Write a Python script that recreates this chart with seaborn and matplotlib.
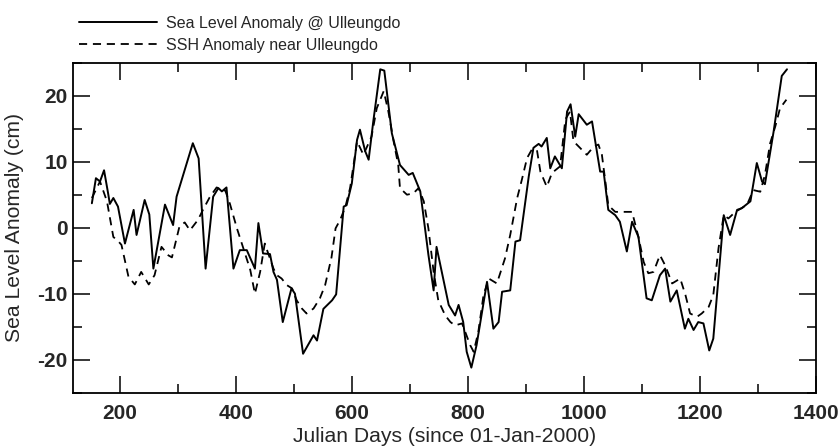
import numpy as np
import pandas as pd
import matplotlib
matplotlib.use("Agg")
import matplotlib.pyplot as plt
from matplotlib.ticker import MultipleLocator
import seaborn as sns

# Sea level anomaly at Ulleungdo (tide gauge) - solid
tg_day = [152, 159, 166, 173, 180, 183, 189, 197, 209, 224, 229, 243, 251, 258, 278, 292,
          298, 326, 336, 348, 361, 370, 376, 384, 396, 407, 419, 433, 439, 447, 459, 465,
          471, 481, 496, 502, 516, 534, 540, 551, 566, 573, 586, 591, 600, 609, 614, 623,
          629, 637, 649, 656, 669, 683, 698, 705, 718, 732, 741, 746, 767, 778, 784, 792,
          798, 806, 815, 833, 844, 853, 859, 873, 882, 890, 905, 913, 922, 927, 936, 942,
          950, 962, 971, 977, 985, 991, 1005, 1014, 1028, 1034, 1042, 1054, 1062, 1074, 1083, 1094,
          1108, 1117, 1131, 1140, 1149, 1160, 1174, 1180, 1189, 1197, 1206, 1216, 1223, 1241, 1252, 1264,
          1272, 1287, 1298, 1307, 1312, 1327, 1341, 1350]
tg_sla = [3.7, 7.5, 7.0, 8.7, 5.2, 3.6, 4.5, 3.2, -2.4, 2.7, -1.1, 4.2, 2.0, -6.2, 3.5, 0.4,
          4.7, 12.8, 10.5, -6.2, 4.7, 6.0, 5.5, 6.1, -6.2, -3.4, -3.4, -6.2, 0.7, -3.9, -4.0, -6.7,
          -7.9, -14.3, -9.2, -10.0, -19.1, -16.3, -17.1, -12.3, -11.0, -10.1, 3.2, 3.4, 6.7, 13.3, 14.85, 11.6,
          10.3, 16.1, 24.0, 23.8, 14.3, 9.5, 8.0, 8.3, 5.5, -4.1, -9.5, -2.9, -11.7, -13.3, -11.7, -14.3,
          -18.8, -21.2, -17.8, -8.2, -15.3, -14.3, -9.7, -9.5, -2.1, -1.9, 7.8, 12.1, 12.7, 12.3, 13.6, 9.0,
          10.8, 9.0, 17.6, 18.7, 13.8, 17.2, 15.6, 16.1, 8.5, 8.5, 2.7, 1.9, 0.9, -3.6, 0.9, -1.4,
          -10.7, -11.0, -7.2, -6.2, -11.2, -9.5, -15.3, -13.8, -15.5, -14.3, -14.5, -18.6, -16.8, 1.9, -1.1, 2.7,
          2.95, 4.0, 9.8, 7.0, 6.6, 14.6, 23.0, 24.0]

# SSH anomaly near Ulleungdo (altimetry) - dashed
sat_day = [152, 166, 178, 189, 198, 203, 215, 226, 237, 250, 260, 272, 284, 290, 303, 312,
           321, 335, 344, 355, 367, 382, 390, 402, 413, 425, 433, 442, 450, 465, 471, 479,
           488, 497, 505, 514, 522, 534, 545, 554, 565, 572, 580, 589, 597, 603, 609, 620,
           634, 643, 655, 663, 672, 680, 683, 695, 706, 715, 724, 732, 741, 749, 761, 770,
           778, 790, 804, 810, 818, 827, 836, 850, 864, 873, 885, 893, 902, 910, 919, 925,
           936, 945, 959, 968, 976, 982, 991, 1005, 1017, 1025, 1031, 1037, 1042, 1054, 1071, 1083,
           1094, 1103, 1111, 1120, 1131, 1140, 1152, 1166, 1175, 1183, 1195, 1203, 1215, 1223, 1232, 1241,
           1249, 1261, 1281, 1292, 1304, 1312, 1321, 1330, 1338, 1349]
sat_ssha = [4.5, 7.0, 4.0, -1.4, -2.1, -2.6, -7.4, -8.6, -6.7, -8.6, -7.2, -2.9, -4.2, -4.5, 0.2, 0.8,
            -0.4, 1.2, 2.8, 4.6, 6.1, 5.6, 3.6, -0.1, -3.1, -6.4, -10.0, -6.7, -2.4, -6.2, -7.2, -7.7,
            -8.7, -9.2, -11.0, -12.25, -13.0, -12.25, -10.7, -8.7, -4.5, -0.1, 1.2, 3.2, 6.0, 9.5, 13.1, 11.05,
            13.8, 18.1, 20.7, 17.6, 13.1, 9.5, 6.0, 5.0, 5.2, 6.0, 4.0, -0.1, -6.7, -11.0, -13.3, -14.3,
            -14.8, -14.5, -17.8, -18.8, -15.8, -10.2, -7.7, -8.45, -4.65, -1.1, 4.5, 7.25, 10.55, 11.8, 11.8, 8.5,
            6.2, 8.3, 9.3, 16.4, 17.6, 13.1, 12.3, 11.05, 12.3, 12.6, 11.05, 7.0, 3.4, 2.4, 2.4, 2.4,
            -1.4, -5.2, -6.9, -6.7, -4.15, -5.7, -8.45, -7.7, -10.2, -13.0, -13.5, -13.0, -12.0, -10.2, -3.1, 1.9,
            1.4, 2.4, 3.45, 5.7, 5.45, 8.0, 12.8, 15.4, 18.1, 19.4]

label_tg = "Sea Level Anomaly @ Ulleungdo"
label_sat = "SSH Anomaly near Ulleungdo"
x_label = "Julian Days (since 01-Jan-2000)"
y_label = "Sea Level Anomaly (cm)"
x_ticks = [200, 400, 600, 800, 1000, 1200, 1400]
y_ticks = [-20, -10, 0, 10, 20]

sns.set_style("ticks")
plt.rcParams["font.family"] = ["Liberation Sans", "DejaVu Sans"]

fig = plt.figure(figsize=(8.38, 4.48), dpi=100)
ax = fig.add_axes([73.3 / 838, 1 - 392.7 / 448, (816 - 73.3) / 838, 330 / 448])

df_tg = pd.DataFrame({"day": tg_day, "val": tg_sla})
df_sat = pd.DataFrame({"day": sat_day, "val": sat_ssha})

sns.lineplot(data=df_tg, x="day", y="val", ax=ax, color="black", lw=1.4,
             label=label_tg, sort=False)
sns.lineplot(data=df_sat, x="day", y="val", ax=ax, color="black", lw=1.3,
             linestyle=(0, (4.5, 3.2)), label=label_sat, sort=False)

ax.set_xlim(120, 1400)
ax.set_ylim(-25, 25)
ax.set_xticks(x_ticks)
ax.set_yticks(y_ticks)
ax.set_xticklabels([str(t) for t in x_ticks])
ax.set_yticklabels([str(t) for t in y_ticks])
ax.xaxis.set_minor_locator(MultipleLocator(100))
ax.yaxis.set_minor_locator(MultipleLocator(5))

ax.tick_params(which="both", direction="in", top=True, right=True, width=1.1, color="black")
ax.tick_params(which="major", length=12, labelsize=15, pad=8)
ax.tick_params(axis="y", which="major", pad=4)
ax.tick_params(which="minor", length=6.2)
for lab in ax.get_xticklabels() + ax.get_yticklabels():
    lab.set_fontweight("bold")

for s in ax.spines.values():
    s.set_linewidth(1.3)
    s.set_color("black")

ax.set_xlabel(x_label, fontsize=15.2)
ax.set_ylabel(y_label, fontsize=15.2)
ax.xaxis.set_label_coords(0.5, -0.105)
ax.yaxis.set_label_coords(-0.066, 0.5)

ax.get_legend().remove()
h, l = ax.get_legend_handles_labels()
fig.legend(h, l, loc="upper left", bbox_to_anchor=(79 / 838, 0.965), frameon=False,
           fontsize=11.5, handlelength=4.9, handletextpad=0.55, labelspacing=0.43,
           borderpad=0, borderaxespad=0)

fig.savefig("out.png", dpi=100)
